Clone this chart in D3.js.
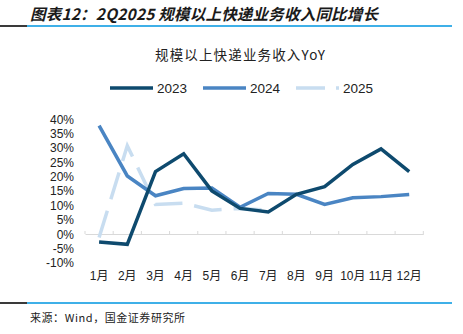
<!DOCTYPE html>
<html><head><meta charset="utf-8">
<script src="https://cdn.jsdelivr.net/npm/d3@7"></script>
<style>
html,body{margin:0;padding:0;background:#fff;}
svg{display:block;}
text{font-family:"Liberation Sans",Arial,"Noto Sans CJK SC",sans-serif;}
</style></head>
<body>
<svg id="c" width="463" height="334"></svg>
<script>
const months = ["1月","2月","3月","4月","5月","6月","7月","8月","9月","10月","11月","12月"];
const y2023 = [-2.8,-3.6,21.7,27.9,15.0,8.9,7.7,13.8,16.5,24.2,29.6,21.7];
const y2024 = [37.7,20.2,13.3,15.8,16.0,9.3,14.1,13.8,10.3,12.6,13.0,13.7];
const y2025 = [-1.2,30.7,10.3,10.7,8.3,8.9,8.3];
const yTicks = [-10,-5,0,5,10,15,20,25,30,35,40];
const seriesNames = ["2023","2024","2025"];
const titleText = "图表12：2Q2025 规模以上快递业务收入同比增长";
const chartTitle = "规模以上快递业务收入YoY";
const sourceText = "来源：Wind，国金证券研究所";

const colors = {"2023":"#0e4a6e","2024":"#4a85c3","2025":"#c8ddf0"};
const series = [
  {name:"2023", values:y2023},
  {name:"2024", values:y2024},
  {name:"2025", values:y2025, dash:"28,12"}
];

const svg = d3.select("#c");

// header
svg.append("text").attr("x",30).attr("y",20)
  .attr("font-size",15.5).attr("font-weight","bold").attr("font-style","italic")
  .attr("fill","#1a1a1a")
  .attr("textLength",348).attr("lengthAdjust","spacing")
  .style("font-family",'"Noto Sans CJK SC","Liberation Sans",sans-serif')
  .text(titleText);
svg.append("line").attr("x1",0).attr("x2",27).attr("y1",26).attr("y2",26)
  .attr("stroke","#3a3a3a").attr("stroke-width",2);
svg.append("line").attr("x1",27).attr("x2",452).attr("y1",26).attr("y2",26)
  .attr("stroke","#3fb0e8").attr("stroke-width",2);

// chart title
svg.append("text").attr("x",155).attr("y",60)
  .attr("font-size",13.5).attr("fill","#222")
  .attr("textLength",170).attr("lengthAdjust","spacing")
  .style("font-family",'"Noto Sans CJK SC","Liberation Sans",sans-serif')
  .text(chartTitle);

// legend
const legendPos = [{lx:110,tx:157},{lx:203,tx:250},{lx:296,tx:343}];
series.forEach((s,i)=>{
  const p = legendPos[i];
  svg.append("line").attr("x1",p.lx).attr("x2",p.lx+43).attr("y1",88).attr("y2",88)
    .attr("stroke",colors[s.name]).attr("stroke-width",3.5)
    .attr("stroke-dasharray", s.dash ? "29,11" : null);
  svg.append("text").attr("x",p.tx).attr("y",93).attr("font-size",13.5).attr("fill","#222").text(s.name);
});

// scales
const x = d3.scaleBand().domain(months).range([85,423.3]);
const y = d3.scaleLinear().domain([-10,40]).range([262.75,119]);

// y labels
svg.append("g").selectAll("text").data(yTicks).join("text")
  .attr("x",74).attr("y",d=>y(d)+4.5).attr("text-anchor","end")
  .attr("font-size",12).attr("fill","#222")
  .text(d=>d+"%");

// x axis at 0
const xAxis = d3.axisBottom(x).tickSize(0).tickFormat("");
const gx = svg.append("g").attr("transform",`translate(0,${y(0)})`).call(xAxis);
gx.select(".domain").attr("stroke","#d9d9d9").attr("stroke-width",1.2);
const bounds = months.map(m=>x(m)).concat([x.range()[1]]);
svg.append("g").selectAll("line").data(bounds).join("line")
  .attr("x1",d=>d).attr("x2",d=>d).attr("y1",y(0)-3).attr("y2",y(0))
  .attr("stroke","#d9d9d9").attr("stroke-width",1);

// x labels
svg.append("g").selectAll("text").data(months).join("text")
  .attr("x",d=>x(d)+x.bandwidth()/2).attr("y",280).attr("text-anchor","middle")
  .attr("font-size",12).attr("fill","#222")
  .style("font-family",'"Liberation Sans","Noto Sans CJK SC",sans-serif')
  .text(d=>d);

// lines
const line = d3.line().x((d,i)=>x(months[i])+x.bandwidth()/2).y(d=>y(d));
["2025","2024","2023"].forEach(n=>{
  const s = series.find(t=>t.name===n);
  svg.append("path").datum(s.values).attr("d",line)
    .attr("fill","none").attr("stroke",colors[n]).attr("stroke-width",3.5)
    .attr("stroke-linejoin","miter")
    .attr("stroke-dasharray", s.dash || null);
});

// footer
svg.append("line").attr("x1",0).attr("x2",27).attr("y1",303).attr("y2",303)
  .attr("stroke","#3a3a3a").attr("stroke-width",2);
svg.append("line").attr("x1",27).attr("x2",452).attr("y1",303).attr("y2",303)
  .attr("stroke","#3fb0e8").attr("stroke-width",2);
svg.append("text").attr("x",30).attr("y",322).attr("font-size",11).attr("fill","#222")
  .attr("textLength",155).attr("lengthAdjust","spacing")
  .style("font-family",'"Noto Sans CJK SC","Liberation Sans",sans-serif')
  .text(sourceText);
</script>
</body></html>
